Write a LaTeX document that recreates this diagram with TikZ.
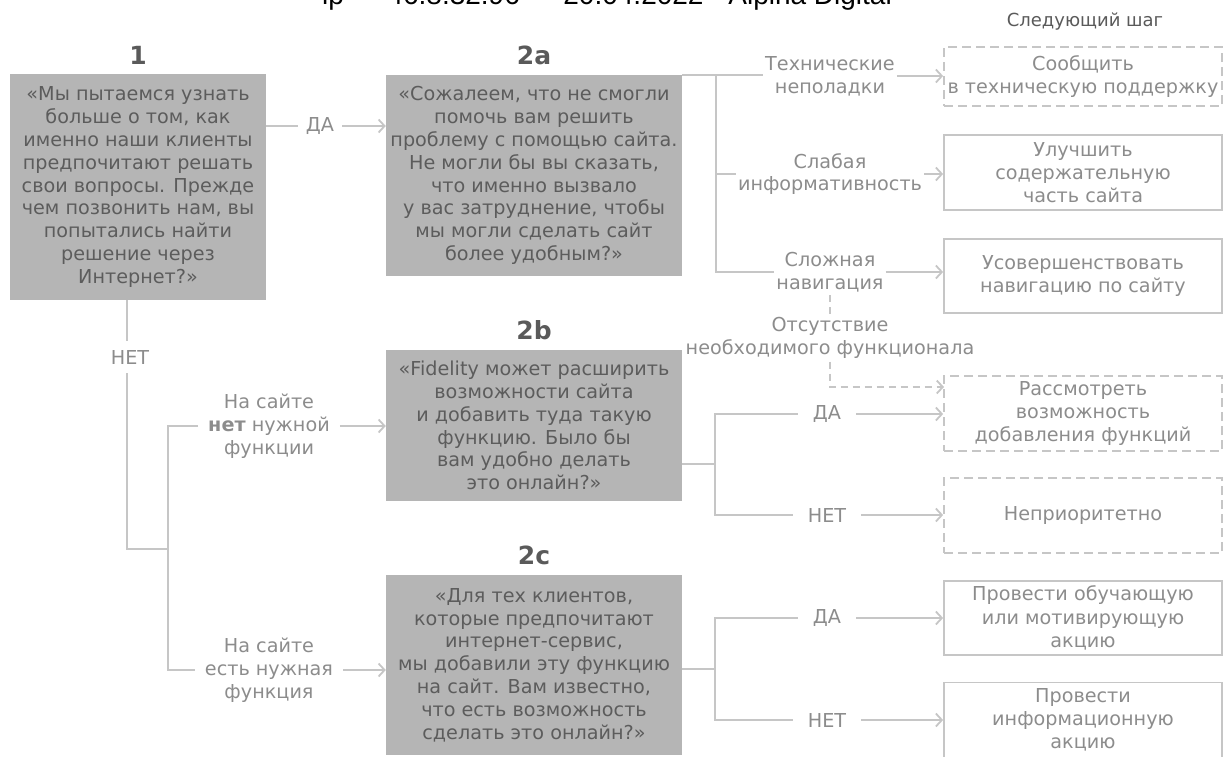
\documentclass[tikz,border=0pt]{standalone}
\usepackage{fontspec}
\setmainfont{DejaVu Sans}
\newfontfamily\wmfont{Liberation Sans}
\usetikzlibrary{arrows.meta}

\definecolor{boxgray}{HTML}{B5B5B5}
\definecolor{qtext}{HTML}{5C5C5C}
\definecolor{linegray}{HTML}{C6C6C6}
\definecolor{labgray}{HTML}{8C8C8C}
\definecolor{headgray}{HTML}{5A5A5A}

\tikzset{
    question/.style={fill=boxgray, text=qtext, align=center, inner sep=0pt,
        font=\fontsize{19.2}{22.8}\selectfont},
    nextbox/.style={draw=linegray, line width=1.8pt, text=labgray, align=center,
        inner sep=0pt, minimum width=278pt, font=\fontsize{19.2}{23.2}\selectfont},
    nextdash/.style={nextbox, dash pattern=on 9pt off 5pt},
    head/.style={text=headgray, font=\fontsize{25}{25}\selectfont\bfseries},
    lab/.style={text=labgray, align=center, inner xsep=2pt, inner ysep=3pt,
        font=\fontsize{19.2}{22.8}\selectfont},
    yesno/.style={lab, inner xsep=15pt},
    link/.style={draw=linegray, line width=1.8pt},
    >={Straight Barb[length=6pt,width=13pt]}
}

\begin{document}
\begin{tikzpicture}[x=1pt, y=-1pt]
    \useasboundingbox (0,0) rectangle (1224,756);

    \node[anchor=base west, inner sep=0pt, font=\fontsize{28}{28}\selectfont\wmfont] (wm) at (322,4)
        {ip — 46.8.32.96 — 20.04.2022 · Alpina Digital};

    \node[head] (h1) at (138,55) {1};
    \node[head] (h2a) at (534,55) {2a};
    \node[head] (h2b) at (534,330) {2b};
    \node[head] (h2c) at (534,555) {2c};
    \node[lab, text=headgray, font=\fontsize{18}{22}\selectfont] (hnext) at (1085,22) {Следующий шаг};

    \node[question, minimum width=256pt, minimum height=226pt] (q1) at (138,187)
        {«Мы пытаемся узнать\\больше о том, как\\именно наши клиенты\\предпочитают решать\\свои вопросы. Прежде\\чем позвонить нам, вы\\попытались найти\\решение через\\Интернет?»};
    \node[question, minimum width=296pt, minimum height=201pt] (q2a) at (534,175.5)
        {«Сожалеем, что не смогли\\помочь вам решить\\проблему с помощью сайта.\\Не могли бы вы сказать,\\что именно вызвало\\у вас затруднение, чтобы\\мы могли сделать сайт\\более удобным?»};
    \node[question, minimum width=296pt, minimum height=151pt] (q2b) at (534,425.5)
        {«Fidelity может расширить\\возможности сайта\\и добавить туда такую\\функцию. Было бы\\вам удобно делать\\это онлайн?»};
    \node[question, minimum width=296pt, minimum height=180pt] (q2c) at (534,665)
        {«Для тех клиентов,\\которые предпочитают\\интернет-сервис,\\мы добавили эту функцию\\на сайт. Вам известно,\\что есть возможность\\сделать это онлайн?»};

    \node[yesno, inner xsep=8pt] (yes1) at (320,126) {ДА};
    \node[lab, inner ysep=9pt] (no1) at (130,357) {НЕТ};
    \node[lab, inner xsep=10pt] (l1) at (269,426) {На сайте\\\textbf{нет} нужной\\функции};
    \node[lab, inner xsep=10pt] (l2) at (269,670) {На сайте\\есть нужная\\функция};

    \node[lab] (t1) at (830,76) {Технические\\неполадки};
    \node[lab] (t2) at (830,174) {Слабая\\информативность};
    \node[lab] (t3) at (830,272) {Сложная\\навигация};
    \node[lab] (t4) at (830,338) {Отсутствие\\необходимого функционала};

    \node[yesno] (y2b) at (827,414) {ДА};
    \node[yesno] (n2b) at (827,515) {НЕТ};
    \node[yesno] (y2c) at (827,618) {ДА};
    \node[yesno] (n2c) at (827,720) {НЕТ};

    \node[nextdash, minimum height=59pt] (r1) at (1083,76.5) {Сообщить\\в техническую поддержку};
    \node[nextbox, minimum height=75pt] (r2) at (1083,172.5) {Улучшить\\содержательную\\часть сайта};
    \node[nextbox, minimum height=74pt] (r3) at (1083,276) {Усовершенствовать\\навигацию по сайту};
    \node[nextdash, minimum height=75pt] (r4) at (1083,413.5) {Рассмотреть\\возможность\\добавления функций};
    \node[nextdash, minimum height=75pt] (r5) at (1083,515.5) {Неприоритетно};
    \node[nextbox, minimum height=74pt] (r6) at (1083,618) {Провести обучающую\\или мотивирующую\\акцию};
    \node[nextbox, minimum height=75pt] (r7) at (1083,720) {Провести\\информационную\\акцию};

    \coordinate (j1) at (127,549);
    \coordinate (j1b) at (168,549);
    \coordinate (j2a) at (716,75);
    \coordinate (j2b) at (715,464);
    \coordinate (j2c) at (715,669);
    \coordinate (d4) at (944,387);

    \draw[link] (q1.east |- yes1) -- (yes1.west);
    \draw[link, ->] (yes1.east) -- (yes1 -| q2a.west);
    \draw[link] (q1.south -| j1) -- (j1 |- no1.north);
    \draw[link] (j1 |- no1.south) -- (j1) -- (j1b);
    \draw[link] (l1.west) -- (j1b |- l1) -- (j1b |- l2) -- (l2.west);
    \draw[link, ->] (l1.east) -- (l1 -| q2b.west);
    \draw[link, ->] (l2.east) -- (l2 -| q2c.west);

    \draw[link] (q2a.north east) -- (q2a.north east -| t1.west);
    \draw[link] (j2a) |- (t3.west);
    \draw[link] (j2a |- t2) -- (t2.west);
    \draw[link, ->] (t1.east) -- (t1 -| r1.west);
    \draw[link, ->] (t2.east) -- (t2 -| r2.west);
    \draw[link, ->] (t3.east) -- (t3 -| r3.west);
    \draw[link, dash pattern=on 7pt off 5pt] (t3.south) -- (t4.north);
    \draw[link, dash pattern=on 7pt off 5pt, ->] (t4.south) |- (d4);

    \draw[link] (q2b.east |- j2b) -- (j2b);
    \draw[link] (y2b.west) -- (j2b |- y2b) -- (j2b |- n2b) -- (n2b.west);
    \draw[link, ->] (y2b.east) -- (y2b -| r4.west);
    \draw[link, ->] (n2b.east) -- (n2b -| r5.west);

    \draw[link] (q2c.east |- j2c) -- (j2c);
    \draw[link] (y2c.west) -- (j2c |- y2c) -- (j2c |- n2c) -- (n2c.west);
    \draw[link, ->] (y2c.east) -- (y2c -| r6.west);
    \draw[link, ->] (n2c.east) -- (n2c -| r7.west);
\end{tikzpicture}
\end{document}
